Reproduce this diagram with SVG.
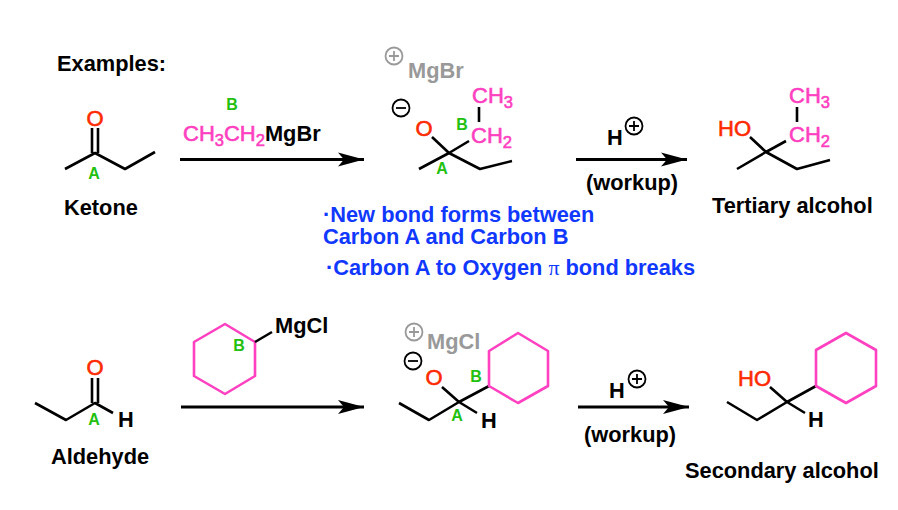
<svg xmlns="http://www.w3.org/2000/svg" width="898" height="510" viewBox="0 0 898 510">
<style>
text{font-family:"Liberation Sans",Arial,sans-serif;font-weight:bold;font-size:21.800px;fill:#000}
.bond{fill:none;stroke:#000;stroke-width:2.6;stroke-linejoin:round}
.ring{fill:none;stroke:#ff40c0;stroke-width:2.6;stroke-linejoin:round}
.arrow{fill:none;stroke:#000;stroke-width:3;marker-end:url(#head)}
.lab{font-size:16px;fill:#22c010;text-anchor:middle}
.atom{font-size:22px;font-weight:normal;stroke-width:.6}
.sub{font-size:16.500px;font-weight:normal;stroke-width:.6}
.red{fill:#ff2a00;stroke:#ff2a00}
.pink{fill:#ff40c0;stroke:#ff40c0}
.gray{fill:#999}
.blue{fill:#1038ff}
.cg{fill:none;stroke:#000;stroke-width:1.8}
.cgg{fill:none;stroke:#999;stroke-width:1.8}
</style>
<defs>
<marker id="head" markerUnits="userSpaceOnUse" markerWidth="27" markerHeight="16" refX="26" refY="8" orient="auto"><path d="M0 1L26 8L0 15L6 8Z" fill="#000"/></marker>
<g id="plus"><circle r="8.5" class="cg"/><path d="M-5 0H5M0-5V5" class="cg"/></g>
<g id="plusg"><circle r="8.5" class="cgg"/><path d="M-5 0H5M0-5V5" class="cgg"/></g>
<g id="minus"><circle r="8.500" class="cg"/><path d="M-5 0H5" class="cg"/></g>
</defs>
<g id="connectors">
<path class="arrow" d="M180 159.500H364"/>
<path class="arrow" d="M576 159.500H687"/>
<path class="arrow" d="M181 407H364"/>
<path class="arrow" d="M578 407H689"/>
</g>
<g id="title"><text x="57" y="71">Examples:</text></g>
<g id="ketone">
<path class="bond" d="M65 169L95 153L125 169L155 152M92 128V153M98 128V153"/>
<text class="atom red" x="95" y="126" text-anchor="middle">O</text>
<text class="lab" x="94" y="179">A</text>
<text x="64" y="215">Ketone</text>
</g>
<g id="reagent1">
<text class="lab" x="232" y="110">B</text>
<text x="183" y="141"><tspan class="atom pink">CH</tspan><tspan class="sub pink" dy="5">3</tspan><tspan class="atom pink" dy="-5">CH</tspan><tspan class="sub pink" dy="5">2</tspan><tspan dy="-5">MgBr</tspan></text>
</g>
<g id="intermediate1">
<use href="#plusg" x="394" y="56"/>
<text class="gray" x="408" y="78">MgBr</text>
<use href="#minus" x="401" y="108"/>
<path class="bond" d="M419 169L449 153L480 169L512 161M449 153L432 137M449 153L469 141M479 107V122"/>
<text class="atom red" x="424" y="136" text-anchor="middle">O</text>
<text x="472" y="103"><tspan class="atom pink">CH</tspan><tspan class="sub pink" dy="5">3</tspan></text>
<text x="471" y="143"><tspan class="atom pink">CH</tspan><tspan class="sub pink" dy="5">2</tspan></text>
<text class="lab" x="462" y="130">B</text>
<text class="lab" x="442" y="174">A</text>
</g>
<g id="conditions1">
<text x="607" y="145">H</text>
<use href="#plus" x="634" y="126"/>
<text x="586" y="190">(workup)</text>
</g>
<g id="tertiary">
<path class="bond" d="M737 169L766 152L797 169L830 160M766 152L750 137M766 152L786 141M797 107V122"/>
<text class="atom red" x="718" y="136">HO</text>
<text x="789" y="103"><tspan class="atom pink">CH</tspan><tspan class="sub pink" dy="5">3</tspan></text>
<text x="789" y="142"><tspan class="atom pink">CH</tspan><tspan class="sub pink" dy="5">2</tspan></text>
<text x="712" y="213">Tertiary alcohol</text>
</g>
<g id="notes">
<text class="blue" x="323" y="222">·New bond forms between</text>
<text class="blue" x="323" y="244">Carbon A and Carbon B</text>
<text class="blue" x="326" y="275">·Carbon A to Oxygen <tspan style="font-family:'Liberation Serif',serif;font-weight:normal">π</tspan> bond breaks</text>
</g>
<g id="aldehyde">
<path class="bond" d="M35 403L66 420L95 403L113 413M92 378V403M98 378V403"/>
<text class="atom red" x="95" y="375" text-anchor="middle">O</text>
<text class="lab" x="94" y="425">A</text>
<text x="118" y="427">H</text>
<text x="51" y="464">Aldehyde</text>
</g>
<g id="reagent2">
<path class="ring" d="M225 324L255 342V376L225 394L194 376V342Z"/>
<path class="bond" d="M255 342L272 332"/>
<text x="275" y="333">MgCl</text>
<text class="lab" x="239" y="351">B</text>
</g>
<g id="intermediate2">
<use href="#plusg" x="414" y="332"/>
<text class="gray" x="427" y="349">MgCl</text>
<use href="#minus" x="413" y="361"/>
<path class="bond" d="M399 403L429 420L459 402L477 413M459 402L442 387M459 402L489 386"/>
<path class="ring" d="M518 333L548 351V386L518 403L489 386V351Z"/>
<text class="atom red" x="434" y="385" text-anchor="middle">O</text>
<text class="lab" x="476" y="382">B</text>
<text class="lab" x="457" y="421">A</text>
<text x="481" y="428">H</text>
</g>
<g id="conditions2">
<text x="609" y="398">H</text>
<use href="#plus" x="637" y="379"/>
<text x="584" y="442">(workup)</text>
</g>
<g id="secondary">
<path class="bond" d="M727 402L757 420L787 402L805 413M787 402L770 387M787 402L816 386"/>
<path class="ring" d="M846 333L876 350V386L846 403L816 386V350Z"/>
<text class="atom red" x="738" y="386">HO</text>
<text x="808" y="427">H</text>
<text x="685" y="478">Secondary alcohol</text>
</g>
</svg>
